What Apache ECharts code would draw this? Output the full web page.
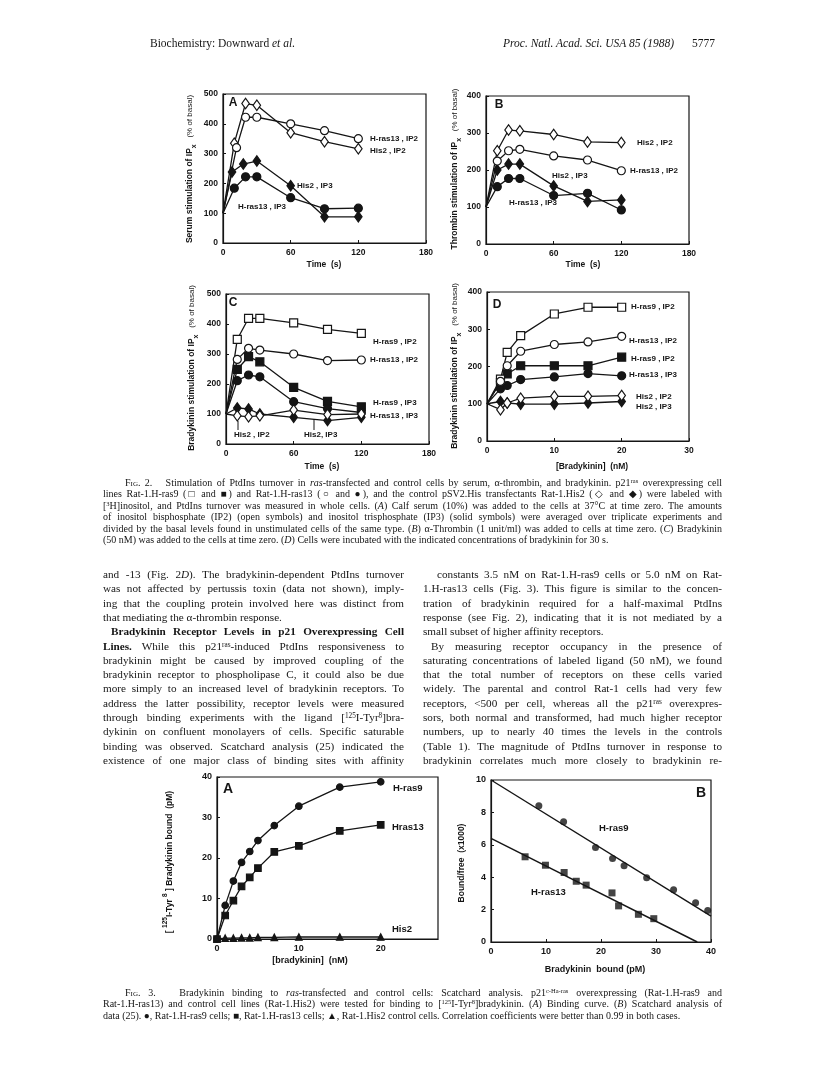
<!DOCTYPE html>
<html>
<head>
<meta charset="utf-8">
<script src="https://cdn.jsdelivr.net/npm/echarts/dist/echarts.min.js"></script>
<style>
body { margin: 0; background: #fff; }
#page { position: relative; width: 816px; height: 1071px; overflow: hidden; }
#chart { position: absolute; left: 0; top: 0; width: 816px; height: 1071px; }
.t { position: absolute; font-family: "Liberation Serif", serif; color: #151515; white-space: nowrap; line-height: 12px; }
.j { text-align: justify; text-align-last: justify; }
.t sup { font-size: 0.65em; line-height: 0; vertical-align: 0.45em; }
.sc { font-variant: small-caps; }
</style>
</head>
<body>
<div id="page"><div id="chart"></div></div>
<script>
// ---- Fig 2 data (% of basal) ----
var time = [0, 10, 20, 30, 60, 90, 120];
var timeA13 = [0, 12, 20, 30, 60, 90, 120];
var timeAHis3 = [0, 8, 18, 30, 60, 90, 120];
var conc = [0, 2, 3, 5, 10, 15, 20];

// A serum
var serumHis2IP2 = [100, 335, 468, 462, 370, 340, 316];
var serumRas13IP2 = [100, 320, 422, 422, 400, 377, 350];
var serumHis2IP3 = [100, 238, 265, 275, 192, 88, 88];
var serumRas13IP3 = [100, 184, 222, 222, 152, 115, 117];
// B thrombin
var thrHis2IP2 = [100, 252, 308, 306, 296, 276, 274];
var thrRas13IP2 = [100, 224, 252, 256, 238, 227, 198];
var thrHis2IP3 = [100, 200, 216, 216, 157, 115, 119];
var thrRas13IP3 = [100, 155, 177, 177, 131, 137, 92];
// C bradykinin time course
var bkRas9IP2 = [100, 349, 419, 419, 404, 382, 369];
var bkRas13IP2 = [100, 282, 319, 313, 300, 278, 280];
var bkRas9IP3 = [100, 249, 291, 274, 189, 142, 124];
var bkRas13IP3 = [100, 211, 230, 224, 141, 118, 105];
var bkHis2IP2 = [100, 94, 91, 94, 113, 98, 100];
var bkHis2IP3 = [100, 120, 117, 100, 89, 78, 89];
// D bradykinin dose
var dRas9IP2 = [100, 166, 238, 283, 341, 359, 359];
var dRas13IP2 = [100, 160, 202, 241, 259, 266, 281];
var dRas9IP3 = [100, 157, 180, 202, 202, 202, 225];
var dRas13IP3 = [100, 140, 149, 165, 172, 181, 175];
var dHis2IP2 = [100, 84, 102, 115, 120, 120, 122];
var dHis2IP3 = [100, 106, 102, 99, 99, 102, 106];

// ---- Fig 3 data ----
var bkConc = [0, 1, 2, 3, 4, 5, 7, 10, 15, 20];
var bound9 = [0, 8.3, 14.3, 18.9, 21.6, 24.3, 28.0, 32.8, 37.5, 38.8];
var bound13 = [0, 5.8, 9.5, 13.0, 15.2, 17.5, 21.5, 23.0, 26.7, 28.2];
var boundHis2 = [0, 0.2, 0.2, 0.3, 0.3, 0.4, 0.4, 0.5, 0.5, 0.5];

var sc9Bound = [8.7, 13.2, 19.0, 22.1, 24.2, 28.3, 33.2, 37.2, 39.4];
var sc9Ratio = [8.41, 7.42, 5.84, 5.15, 4.70, 3.96, 3.22, 2.43, 1.94];
var sc13Bound = [6.2, 9.9, 13.3, 15.5, 17.3, 22.0, 23.2, 26.8, 29.6];
var sc13Ratio = [5.26, 4.74, 4.29, 3.75, 3.51, 3.03, 2.23, 1.71, 1.44];
var fit9X = [0, 40], fit9Y = [10, 1.6];
var fit13X = [0, 37.5], fit13Y = [6.4, 0];

var INK = '#151515';
var SANS = '"Liberation Sans", Arial, sans-serif';

function grid(l, t, w, h) {
    return { left: l, top: t, width: w, height: h, show: true, borderColor: INK, borderWidth: 1.2, backgroundColor: 'transparent' };
}
function axis(i, min, max, step, size) {
    return {
        gridIndex: i, type: 'value', min: min, max: max, interval: step,
        axisLine: { onZero: false, lineStyle: { color: INK, width: 1.2 } },
        axisTick: { inside: true, length: 3, lineStyle: { color: INK } },
        splitLine: { show: false },
        axisLabel: { color: INK, fontFamily: SANS, fontWeight: 'bold', fontSize: size || 8.5, margin: 5, showMaxLabel: true }
    };
}
// line with markers; the point at the origin of the time course has no marker
function ln(i, xs, ys, sym, filled, size, noFirst) {
    var d = xs.map(function (x, k) {
        if (k === 0 && noFirst) return { value: [x, ys[k]], symbol: 'none' };
        return [x, ys[k]];
    });
    return {
        type: 'line', xAxisIndex: i, yAxisIndex: i, data: d,
        symbol: sym, symbolSize: size, showAllSymbol: true,
        lineStyle: { color: INK, width: 1.3 },
        itemStyle: { color: filled ? INK : '#fff', borderColor: INK, borderWidth: 1.2 },
        z: filled ? 3 : 4, animation: false, silent: true
    };
}
function pts(i, xs, ys, sym, size) {
    return {
        type: 'scatter', xAxisIndex: i, yAxisIndex: i, symbol: sym, symbolSize: size,
        data: xs.map(function (x, k) { return [x, ys[k]]; }),
        itemStyle: { color: INK }, z: 5, animation: false, silent: true
    };
}
function fit(i, xs, ys) {
    return {
        type: 'line', xAxisIndex: i, yAxisIndex: i, symbol: 'none',
        data: xs.map(function (x, k) { return [x, ys[k]]; }),
        lineStyle: { color: INK, width: 1.4 }, z: 2, animation: false, silent: true
    };
}
function txt(x, y, s, size, align) {
    return { type: 'text', x: x, y: y, z: 20, silent: true,
        style: { text: s, fill: INK, font: 'bold ' + (size || 8) + 'px ' + SANS,
            align: align || 'left', textAlign: align || 'left', verticalAlign: 'middle', textVerticalAlign: 'middle' } };
}
function ytitle(x, y, s, rich) {
    return { type: 'text', x: x, y: y, rotation: Math.PI / 2, z: 20, silent: true,
        style: { text: s, rich: rich, fill: INK, font: 'bold 8.5px ' + SANS,
            align: 'center', textAlign: 'center', verticalAlign: 'middle', textVerticalAlign: 'middle' } };
}
var ipRich = {
    a: { font: 'bold 8.5px ' + SANS, fill: INK, lineHeight: 16, verticalAlign: 'middle' },
    s: { font: 'bold 7px ' + SANS, fill: INK, lineHeight: 8, verticalAlign: 'bottom' },
    b: { font: '8px ' + SANS, fill: INK, lineHeight: 16, verticalAlign: 'middle' }
};
var supRich = {
    a: { font: 'bold 8.5px ' + SANS, fill: INK, lineHeight: 16, verticalAlign: 'middle' },
    u: { font: 'bold 6.5px ' + SANS, fill: INK, lineHeight: 8, verticalAlign: 'top' }
};

var D = 'diamond', C = 'circle', S = 'rect', T = 'triangle';
var dS = [7.5, 10.5];

var myChart = echarts.init(document.getElementById('chart'), null, { renderer: 'canvas' });
var xa = [axis(0, 0, 180, 60), axis(1, 0, 180, 60), axis(2, 0, 180, 60), axis(3, 0, 30, 10),
    axis(4, 0, 27, 10, 9), axis(5, 0, 40, 10, 9)];
xa[4].axisLabel.showMaxLabel = false;
var ya = [axis(0, 0, 500, 100), axis(1, 0, 400, 100), axis(2, 0, 500, 100), axis(3, 0, 400, 100),
    axis(4, 0, 40, 10, 9), axis(5, 0, 10, 2, 9)];

var option = {
    backgroundColor: 'transparent',
    animation: false,
    grid: [grid(223, 94, 203, 149), grid(486, 96, 203, 148), grid(226, 294, 203, 150),
        grid(487, 292, 202, 149), grid(217, 777, 221, 162), grid(491, 780, 220, 162)],
    xAxis: xa,
    yAxis: ya,
    series: [
        // A
        ln(0, time, serumHis2IP2, D, false, dS, true),
        ln(0, timeA13, serumRas13IP2, C, false, 8, true),
        ln(0, timeAHis3, serumHis2IP3, D, true, dS, true),
        ln(0, time, serumRas13IP3, C, true, 8, true),
        // B
        ln(1, time, thrHis2IP2, D, false, dS, true),
        ln(1, time, thrRas13IP2, C, false, 8, true),
        ln(1, time, thrHis2IP3, D, true, dS, true),
        ln(1, time, thrRas13IP3, C, true, 8, true),
        // C
        ln(2, time, bkRas9IP3, S, true, 8, true),
        ln(2, time, bkRas13IP3, C, true, 8, true),
        ln(2, time, bkHis2IP3, D, true, dS, true),
        ln(2, time, bkRas9IP2, S, false, 8, true),
        ln(2, time, bkRas13IP2, C, false, 8, true),
        ln(2, time, bkHis2IP2, D, false, dS, true),
        // D
        ln(3, conc, dRas9IP3, S, true, 8, true),
        ln(3, conc, dRas13IP3, C, true, 8, true),
        ln(3, conc, dHis2IP3, D, true, dS, true),
        ln(3, conc, dRas9IP2, S, false, 8, true),
        ln(3, conc, dRas13IP2, C, false, 8, true),
        ln(3, conc, dHis2IP2, D, false, dS, true),
        // Fig 3 A
        ln(4, bkConc, bound9, C, true, 6.5, false),
        ln(4, bkConc, bound13, S, true, 6.5, false),
        ln(4, bkConc, boundHis2, T, true, 6.5, false),
        // Fig 3 B
        fit(5, fit9X, fit9Y),
        fit(5, fit13X, fit13Y),
        pts(5, sc9Bound, sc9Ratio, C, 7),
        pts(5, sc13Bound, sc13Ratio, S, 7)
    ],
    graphic: [
        // panel letters
        txt(233, 103, 'A', 12, 'center'), txt(499, 105, 'B', 12, 'center'),
        txt(233, 303, 'C', 12, 'center'), txt(497, 305, 'D', 12, 'center'),
        txt(228, 789, 'A', 14, 'center'), txt(701, 793, 'B', 14, 'center'),
        // A labels
        txt(370, 139, 'H-ras13 , IP2'), txt(370, 151, 'His2 , IP2'),
        txt(297, 186, 'His2 , IP3'), txt(238, 207, 'H-ras13 , IP3'),
        // B labels
        txt(637, 143, 'His2 , IP2'), txt(630, 171, 'H-ras13 , IP2'),
        txt(552, 176, 'His2 , IP3'), txt(509, 203, 'H-ras13 , IP3'),
        // C labels
        txt(373, 342, 'H-ras9 , IP2'), txt(370, 360, 'H-ras13 , IP2'),
        txt(373, 403, 'H-ras9 , IP3'), txt(370, 416, 'H-ras13 , IP3'),
        txt(234, 435, 'His2 , IP2'), txt(304, 435, 'His2, IP3'),
        { type: 'line', shape: { x1: 238, y1: 430, x2: 238, y2: 421 }, style: { stroke: INK, lineWidth: 1 }, z: 20 },
        { type: 'line', shape: { x1: 314, y1: 430, x2: 314, y2: 419 }, style: { stroke: INK, lineWidth: 1 }, z: 20 },
        // D labels
        txt(631, 307, 'H-ras9 , IP2'), txt(629, 341, 'H-ras13 , IP2'),
        txt(631, 359, 'H-ras9 , IP2'), txt(629, 375, 'H-ras13 , IP3'),
        txt(636, 397, 'His2 , IP2'), txt(636, 407, 'His2 , IP3'),
        // Fig 3 labels
        txt(393, 788, 'H-ras9', 9.5), txt(392, 827, 'Hras13', 9.5), txt(392, 929, 'His2', 9.5),
        txt(599, 828, 'H-ras9', 9.5), txt(531, 892, 'H-ras13', 9.5),
        // x axis names
        txt(324, 265, 'Time  (s)', 8.5, 'center'), txt(583, 265, 'Time  (s)', 8.5, 'center'),
        txt(322, 467, 'Time  (s)', 8.5, 'center'), txt(592, 467, '[Bradykinin]  (nM)', 8.5, 'center'),
        txt(310, 961, '[bradykinin]  (nM)', 9, 'center'), txt(595, 970, 'Bradykinin  bound (pM)', 9, 'center'),
        // y axis titles
        ytitle(190, 169, '{a|Serum stimulation of IP}{s|x}{b|   (% of basal)}', ipRich),
        ytitle(455, 169, '{a|Thrombin stimulation of IP}{s|x}{b|   (% of basal)}', ipRich),
        ytitle(192, 368, '{a|Bradykinin stimulation of IP}{s|x}{b|   (% of basal)}', ipRich),
        ytitle(455, 366, '{a|Bradykinin stimulation of IP}{s|x}{b|   (% of basal)}', ipRich),
        ytitle(170, 862, '{a|[ }{u|125}{a|I-Tyr }{u|8}{a| ] Bradykinin bound  (pM)}', supRich),
        ytitle(462, 863, '{a|Bound/free  (x1000)}', supRich)
    ]
};
myChart.setOption(option);

// ---- page text ----
var page = document.getElementById('page');
function block(lines, x, y, step, w, size) {
    lines.forEach(function (l, k) {
        var d = document.createElement('div');
        var ind = l[1] || 0;
        d.className = 't' + (l[2] === 0 ? '' : ' j');
        d.style.left = (x + ind) + 'px';
        d.style.top = (y + k * step) + 'px';
        d.style.width = (w - ind) + 'px';
        d.style.fontSize = size + 'px';
        d.innerHTML = l[0];
        page.appendChild(d);
    });
}

block([['Biochemistry: Downward <i>et al.</i>', 0, 0]], 150, 37, 0, 200, 11.5);
block([['<i>Proc. Natl. Acad. Sci. USA 85 (1988)</i>', 0, 0]], 503, 37, 0, 200, 11.5);
block([['5777', 0, 0]], 692, 37, 0, 40, 11.5);

block([
    ['<span class="sc">Fig</span>. 2.&nbsp;&nbsp; Stimulation of PtdIns turnover in <i>ras</i>-transfected and control cells by serum, α-thrombin, and bradykinin. p21<sup>ras</sup> overexpressing cell', 22],
    ['lines Rat-1.H-ras9 (□ and ■) and Rat-1.H-ras13 (○ and ●), and the control pSV2.His transfectants Rat-1.His2 (◇ and ◆) were labeled with'],
    ['[<sup>3</sup>H]inositol, and PtdIns turnover was measured in whole cells. (<i>A</i>) Calf serum (10%) was added to the cells at 37°C at time zero. The amounts'],
    ['of inositol bisphosphate (IP2) (open symbols) and inositol trisphosphate (IP3) (solid symbols) were averaged over triplicate experiments and'],
    ['divided by the basal levels found in unstimulated cells of the same type. (<i>B</i>) α-Thrombin (1 unit/ml) was added to cells at time zero. (<i>C</i>) Bradykinin'],
    ['(50 nM) was added to the cells at time zero. (<i>D</i>) Cells were incubated with the indicated concentrations of bradykinin for 30 s.', 0, 0]
], 103, 477, 11.4, 619, 10);

block([
    ['and -13 (Fig. 2<i>D</i>). The bradykinin-dependent PtdIns turnover'],
    ['was not affected by pertussis toxin (data not shown), imply-'],
    ['ing that the coupling protein involved here was distinct from'],
    ['that mediating the α-thrombin response.', 0, 0],
    ['<b>Bradykinin Receptor Levels in p21 Overexpressing Cell</b>', 8],
    ['<b>Lines.</b> While this p21<sup>ras</sup>-induced PtdIns responsiveness to'],
    ['bradykinin might be caused by improved coupling of the'],
    ['bradykinin receptor to phospholipase C, it could also be due'],
    ['more simply to an increased level of bradykinin receptors. To'],
    ['address the latter possibility, receptor levels were measured'],
    ['through binding experiments with the ligand [<sup>125</sup>I-Tyr<sup>8</sup>]bra-'],
    ['dykinin on confluent monolayers of cells. Specific saturable'],
    ['binding was observed. Scatchard analysis (25) indicated the'],
    ['existence of one major class of binding sites with affinity']
], 103, 568, 14.3, 301, 11.2);

block([
    ['constants 3.5 nM on Rat-1.H-ras9 cells or 5.0 nM on Rat-', 14],
    ['1.H-ras13 cells (Fig. 3). This figure is similar to the concen-'],
    ['tration of bradykinin required for a half-maximal PtdIns'],
    ['response (see Fig. 2), indicating that it is not mediated by a'],
    ['small subset of higher affinity receptors.', 0, 0],
    ['By measuring receptor occupancy in the presence of', 8],
    ['saturating concentrations of labeled ligand (50 nM), we found'],
    ['that the total number of receptors on these cells varied'],
    ['widely. The parental and control Rat-1 cells had very few'],
    ['receptors, &lt;500 per cell, whereas all the p21<sup>ras</sup> overexpres-'],
    ['sors, both normal and transformed, had much higher receptor'],
    ['numbers, up to nearly 40 times the levels in the controls'],
    ['(Table 1). The magnitude of PtdIns turnover in response to'],
    ['bradykinin correlates much more closely to bradykinin re-']
], 423, 568, 14.3, 299, 11.2);

block([
    ['<span class="sc">Fig</span>. 3.&nbsp;&nbsp; Bradykinin binding to <i>ras</i>-transfected and control cells: Scatchard analysis. p21<sup>c-Ha-ras</sup> overexpressing (Rat-1.H-ras9 and', 22],
    ['Rat-1.H-ras13) and control cell lines (Rat-1.His2) were tested for binding to [<sup>125</sup>I-Tyr<sup>8</sup>]bradykinin. (<i>A</i>) Binding curve. (<i>B</i>) Scatchard analysis of'],
    ['data (25). ●, Rat-1.H-ras9 cells; ■, Rat-1.H-ras13 cells; ▲, Rat-1.His2 control cells. Correlation coefficients were better than 0.99 in both cases.', 0, 0]
], 103, 987, 11.4, 619, 10);
</script>
</body>
</html>
